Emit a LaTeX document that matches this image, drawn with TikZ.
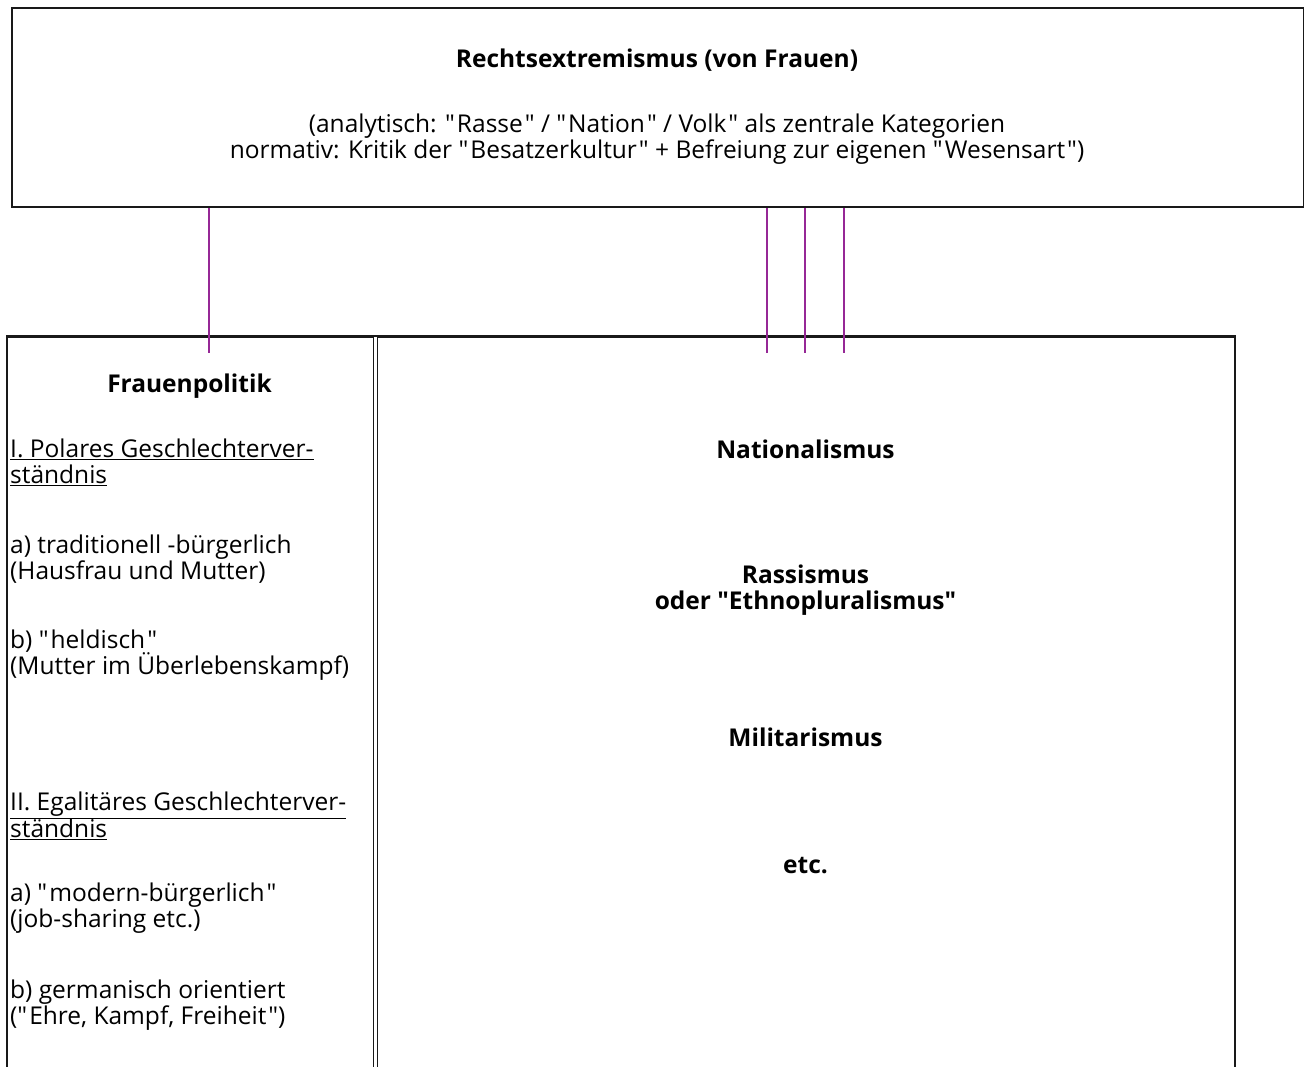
\documentclass[tikz,border=0pt]{standalone}
\usepackage{fontspec}
\setmainfont{Open Sans}
\usetikzlibrary{positioning}
\definecolor{FrameDark}{RGB}{25, 25, 25}
\definecolor{LinkPurple}{RGB}{150, 40, 150}
\newcommand{\qq}[1]{\textquotedbl\kern2pt#1\kern2pt\textquotedbl}

\begin{document}
\begin{tikzpicture}[
        x=1pt, y=-1pt,
        every node/.style={font=\fontsize{24.5}{26}\selectfont, inner sep=0pt},
        frame/.style={rectangle, draw=FrameDark, line width=2pt, anchor=north west},
        colframe/.style={rectangle, draw=FrameDark, line width=1.5pt, anchor=north west},
        title/.style={font=\fontsize{24.5}{26}\selectfont\bfseries, align=center},
        item/.style={anchor=west, align=left},
        link/.style={draw=LinkPurple, line width=1.5pt}
    ]
        \useasboundingbox (0,0) rectangle (1304,1066);
        \fill[white] (0,0) rectangle (1304,1066);
        \clip (0,0) rectangle (1304,1066);

        % Boxes
        \node[frame, minimum width=1292pt, minimum height=199pt] (top) at (11,7) {};
        \node[colframe, minimum width=366.5pt, minimum height=780pt] (left) at (6,336) {};
        \node[colframe, minimum width=857.5pt, minimum height=780pt] (right) at (376.5,336) {};
        \draw[FrameDark, line width=2pt] (left.north west) -- (right.north east);

        % Top text
        \node[title] (rex) at (657,60) {Rechtsextremismus (von Frauen)};
        \node[align=center] (def) at (657,139) {(analytisch: \qq{Rasse} / \qq{Nation} / Volk\kern2pt\textquotedbl{} als zentrale Kategorien\\
            normativ: Kritik der \qq{Besatzerkultur} + Befreiung zur eigenen \qq{Wesensart})};

        % Left column
        \node[title] (fp) at (189.5,386) {Frauenpolitik};
        \node[item] (polar) at (10,462.5) {\underline{I. Polares Geschlechterver-}\\\underline{ständnis}};
        \node[item] (trad) at (10,559) {a) traditionell -bürgerlich\\(Hausfrau und Mutter)};
        \node[item] (held) at (10,655) {b) \qq{heldisch}\\(Mutter im Überlebenskampf)};
        \node[item] (egal) at (10,816) {\underline{II. Egalitäres Geschlechterver-}\\\underline{ständnis}};
        \node[item] (modern) at (10,908) {a) \qq{modern-bürgerlich}\\(job-sharing etc.)};
        \node[item] (germ) at (10,1005) {b) germanisch orientiert\\(\qq{Ehre, Kampf, Freiheit})};

        % Right column
        \node[title] (nat) at (805.5,449) {Nationalismus};
        \node[title] (rass) at (805.5,590) {Rassismus\\oder \textquotedbl Ethnopluralismus\textquotedbl};
        \node[title] (mil) at (805.5,737) {Militarismus};
        \node[title] (etc) at (805.5,866) {etc.};

        % Links
        \coordinate (l0) at (209,353);
        \coordinate (l1) at (767,353);
        \coordinate (l2) at (805,353);
        \coordinate (l3) at (844,353);
        \foreach \c in {l0,l1,l2,l3}
            \draw[link] (top.south -| \c) -- (\c);

    \end{tikzpicture}
\end{document}
